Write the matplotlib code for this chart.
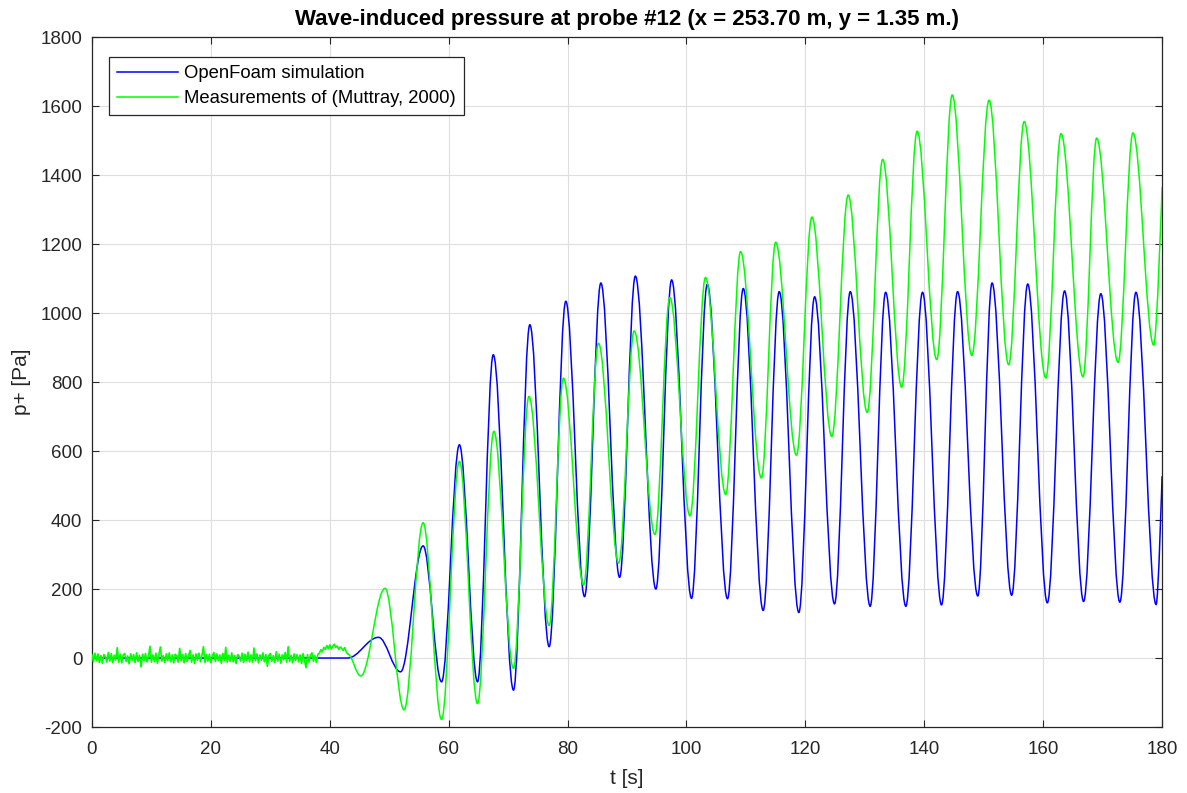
import numpy as np
import matplotlib
matplotlib.use("Agg")
import matplotlib.pyplot as plt
from matplotlib.path import Path
from matplotlib.patches import PathPatch
from matplotlib.lines import Line2D

plt.rcParams['font.family'] = ['Liberation Sans', 'DejaVu Sans']
plt.rcParams['axes.unicode_minus'] = False

# OpenFOAM simulation: times (s) and pressures (Pa) at the wave crests/troughs
sim_t = [0, 43.0, 48.2, 51.9, 55.7, 58.8, 61.8, 64.85, 67.5, 70.9, 73.65, 76.9,
         79.7, 82.85, 85.6, 88.75, 91.4, 94.85, 97.5, 100.85, 103.5, 106.9,
         109.55, 112.9, 115.6, 118.9, 121.55, 124.9, 127.55, 130.9, 133.5,
         136.9, 139.7, 142.9, 145.6, 149.0, 151.4, 154.7, 157.4, 160.7, 163.6,
         166.8, 169.7, 172.9, 175.6, 179.0, 180.0]
sim_p = [0, 0, 60, -40, 325, -69, 618, -69, 879, -93, 966, 33,
         1034, 178, 1087, 234, 1107, 200, 1096, 173, 1083, 172,
         1071, 138, 1062, 132, 1047, 157, 1062, 150, 1060,
         150, 1060, 154, 1062, 180, 1087, 182, 1084, 160, 1064,
         164, 1056, 162, 1060, 155, 527]

# Measurements (Muttray, 2000): still-water record before the waves arrive,
# sampled every 0.25 s from t = 0 to t = 43 s
meas_dt = 0.25
meas_still = [9, -11, 14, -8, 12, -13, 7, -15, 10, 4, -12, 16, -9, 13, -14, 8, -6, 30, -12, 11,
              -14, 9, 13, -10, 6, -17, 12, -7, 10, -13, 15, -10, 8, -26, 11, -8, 13, -11, 5, 34,
              -12, 9, -10, 14, -15, 10, 32, -9, 7, -13, 12, -8, 15, -11, 9, -14, 11, 6, -12, 28,
              -8, 10, -14, 13, -10, 7, 22, -12, 9, -16, 12, -6, 14, -11, 8, 33, -13, 10, -9, 11,
              -14, 7, 16, -10, 12, -8, 9, -15, 13, -7, 31, -12, 8, -10, 15, -11, 7, -16, 10, 5,
              -9, 14, -13, 11, -7, 17, -11, 9, -12, 29, -8, 12, -14, 9, -6, 15, -11, 10, -24, 8,
              13, -10, 7, -13, 18, -9, 11, -15, 9, -5, 16, -12, 33, -10, 8, -14, 12, -7, 10, -11,
              9, -16, 13, -8, -28, 10, -12, 8, 15, -10, 7, -13, 11,
              14, 24, 18, 31, 25, 36, 28, 38, 26, 34, 40, 31, 35, 25, 32, 28, 22, 30, 19, 12]

# Measurements: crests/troughs of the wave record
meas_t = [43.0, 45.2, 49.3, 52.5, 55.7, 58.8, 61.8, 64.85, 67.6, 70.9, 73.5, 76.9,
          79.3, 82.7, 85.2, 88.6, 91.2, 94.7, 97.2, 100.6, 103.2, 106.6, 109.1,
          112.6, 115.0, 118.5, 121.1, 124.45, 127.2, 130.4, 133.0, 136.2, 138.8,
          142.1, 144.7, 148.0, 150.9, 154.2, 156.8, 160.45, 163.0, 166.7, 169.0,
          172.6, 175.1, 178.6, 180.0]
meas_p = [12, -52, 202, -150, 392, -178, 570, -132, 657, -30, 758, 95,
          811, 212, 912, 275, 948, 358, 1045, 412, 1103, 474, 1178,
          522, 1205, 588, 1278, 642, 1342, 712, 1445, 785, 1527,
          865, 1632, 877, 1617, 850, 1555, 812, 1520, 815, 1507,
          857, 1522, 907, 1365]

x_ticks = list(range(0, 181, 20))
y_ticks = list(range(-200, 1801, 200))

SIM_COLOR = (0, 0, 1)
MEAS_COLOR = (0, 1, 0)
AXIS_COLOR = '#262626'


def turning_point_path(t, p, k=0.36):
    """Smooth path through successive turning points (horizontal tangents),
    with the final segment left open-ended."""
    verts = [(t[0], p[0])]
    codes = [Path.MOVETO]
    n = len(t)
    for i in range(n - 1):
        dt = t[i + 1] - t[i]
        c1 = (t[i] + k * dt, p[i])
        if i == n - 2:
            c2 = (t[i + 1], p[i + 1])
        else:
            c2 = (t[i + 1] - k * dt, p[i + 1])
        verts += [c1, c2, (t[i + 1], p[i + 1])]
        codes += [Path.CURVE4] * 3
    return Path(verts, codes)


fig = plt.figure(figsize=(11.87, 7.93), dpi=100)
ax = fig.add_axes([0.0775, 0.0832, 0.9015, 0.8701])

ax.add_patch(PathPatch(turning_point_path(sim_t, sim_p), fill=False,
                       edgecolor=SIM_COLOR, lw=1.1, zorder=3))
still_t = np.arange(len(meas_still)) * meas_dt
ax.plot(still_t, meas_still, color=MEAS_COLOR, lw=1.2, zorder=4)
ax.add_patch(PathPatch(turning_point_path(meas_t, meas_p), fill=False,
                       edgecolor=MEAS_COLOR, lw=1.1, zorder=4))

ax.set_xlim(0, 180)
ax.set_ylim(-200, 1800)
ax.set_xticks(x_ticks)
ax.set_yticks(y_ticks)
ax.grid(True, color='#dedede', lw=0.8)
ax.set_axisbelow(True)
ax.tick_params(direction='in', top=True, right=True, length=5, width=0.8,
               colors=AXIS_COLOR, labelsize=13.5)
ax.tick_params(axis='x', pad=10)
ax.tick_params(axis='y', pad=7)
for s in ax.spines.values():
    s.set_color(AXIS_COLOR)
    s.set_linewidth(0.9)

ax.set_xlabel('t [s]', fontsize=15, color=AXIS_COLOR, labelpad=8)
ax.set_ylabel('p+ [Pa]', fontsize=15, color=AXIS_COLOR, labelpad=7)
ax.set_title('Wave-induced pressure at probe #12 (x = 253.70 m, y = 1.35 m.)',
             fontsize=16, fontweight='bold', color='black', pad=9)

handles = [Line2D([], [], color=SIM_COLOR, lw=1.1),
           Line2D([], [], color=MEAS_COLOR, lw=1.1)]
leg = ax.legend(handles, ['OpenFoam simulation', 'Measurements of (Muttray, 2000)'],
                loc='upper left', bbox_to_anchor=(0.0159, 0.9710), borderaxespad=0,
                fontsize=13.3, frameon=True, fancybox=False, framealpha=1,
                edgecolor=AXIS_COLOR, handlelength=3.3, handletextpad=0.3,
                borderpad=0.45, labelspacing=0.42)
leg.get_frame().set_linewidth(0.9)
for txt in leg.get_texts():
    txt.set_color('black')

fig.savefig('out.png', dpi=100)
